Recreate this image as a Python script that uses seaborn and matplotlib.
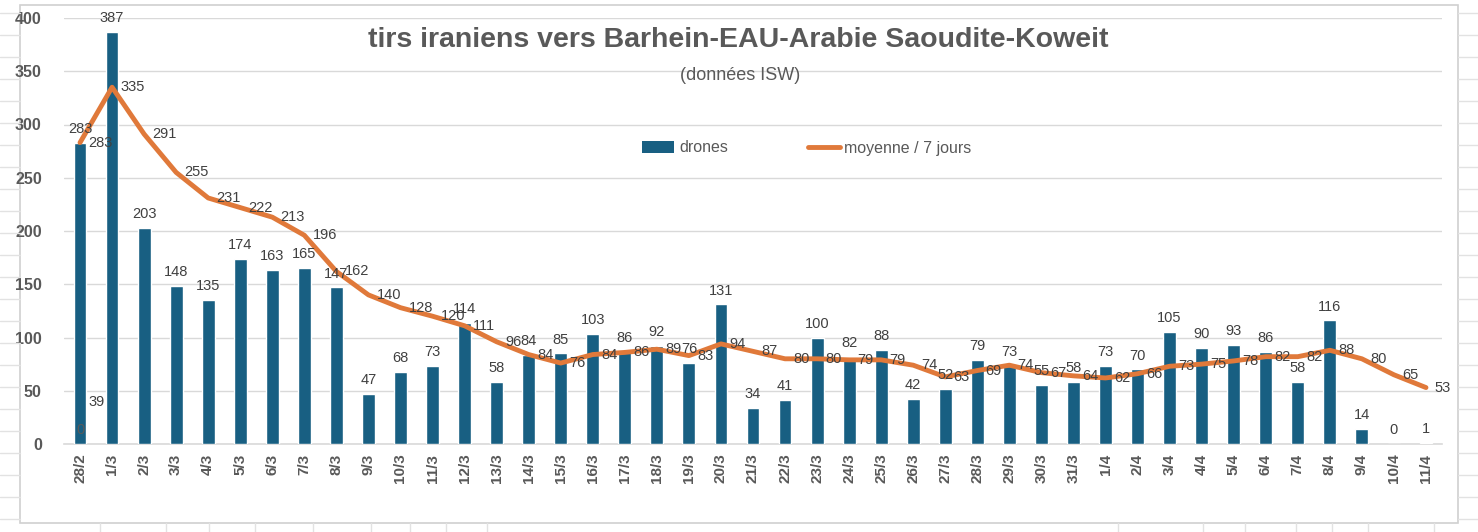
import numpy as np
import pandas as pd
import matplotlib
matplotlib.use('Agg')
import matplotlib.pyplot as plt
from matplotlib.patches import Patch, Rectangle
from matplotlib.lines import Line2D
from matplotlib import font_manager
import seaborn as sns

dates = ['28/2', '1/3', '2/3', '3/3', '4/3', '5/3', '6/3', '7/3', '8/3', '9/3',
         '10/3', '11/3', '12/3', '13/3', '14/3', '15/3', '16/3', '17/3', '18/3', '19/3',
         '20/3', '21/3', '22/3', '23/3', '24/3', '25/3', '26/3', '27/3', '28/3', '29/3',
         '30/3', '31/3', '1/4', '2/4', '3/4', '4/4', '5/4', '6/4', '7/4', '8/4',
         '9/4', '10/4', '11/4']
drones = [283, 387, 203, 148, 135, 174, 163, 165, 147, 47,
          68, 73, 114, 58, 84, 85, 103, 86, 92, 76,
          131, 34, 41, 100, 82, 88, 42, 52, 79, 73,
          55, 58, 73, 70, 105, 90, 93, 86, 58, 116,
          14, 0, 1]
moyenne = [283, 335, 291, 255, 231, 222, 213, 196, 162, 140,
           128, 120, 111, 96, 84, 76, 84, 86, 89, 83,
           94, 87, 80, 80, 79, 79, 74, 63, 69, 74,
           67, 64, 62, 66, 73, 75, 78, 82, 82, 88,
           80, 65, 53]
# stray labels of hidden series on the first day
ghost_above = [0]
ghost_right = [39]

sns.set_theme(style='white')
installed = {f.name for f in font_manager.fontManager.ttflist}
narrow = 'Liberation Sans Narrow' if 'Liberation Sans Narrow' in installed else 'Liberation Sans'
plt.rcParams['font.family'] = ['Liberation Sans', 'DejaVu Sans']

BAR = '#185f82'
LINE = '#e0793a'
GRID = '#d9d9d9'
TXT = '#404040'
AX = '#595959'

df = pd.DataFrame({'date': dates, 'drones': drones, 'moyenne': moyenne})
df['idx'] = np.arange(len(df))

fig = plt.figure(figsize=(14.78, 5.32), dpi=100)
fig.patch.set_facecolor('white')

# spreadsheet cells behind the chart
for y in np.arange(13, 532, 22):
    fig.add_artist(Line2D([0, 20 / 1478], [1 - y / 532] * 2, color='#e2e2e2', lw=1))
    fig.add_artist(Line2D([1458 / 1478, 1], [1 - y / 532] * 2, color='#e2e2e2', lw=1))
for x in [100, 166, 209, 255, 313, 371, 410, 446, 487, 1118, 1203, 1245, 1296, 1332, 1368, 1434]:
    fig.add_artist(Line2D([x / 1478] * 2, [0, 9 / 532], color='#e2e2e2', lw=1))
fig.add_artist(Rectangle((20 / 1478, 9 / 532), 1438 / 1478, 518 / 532, transform=fig.transFigure,
                         facecolor='white', edgecolor='#d0d0d0', lw=1.2, zorder=0))

ax = fig.add_axes([64 / 1478, 1 - 444 / 532, 1378 / 1478, 426 / 532])
ax.set_facecolor('none')

sns.barplot(data=df, x='date', y='drones', color=BAR, width=0.4, saturation=1, ax=ax, zorder=3)
sns.lineplot(data=df, x='idx', y='moyenne', color=LINE, lw=3.5, ax=ax, zorder=4)

ax.set_xlim(-0.5, len(dates) - 0.5)
ax.set_ylim(0, 400)
ax.set_yticks(range(0, 401, 50))
ax.yaxis.grid(True, color=GRID, lw=1)
ax.set_axisbelow(True)
for s in ['top', 'right', 'left']:
    ax.spines[s].set_visible(False)
ax.spines['bottom'].set_color(GRID)
ax.spines['bottom'].set_linewidth(1.2)
ax.tick_params(axis='both', length=0)
ax.tick_params(axis='y', pad=16, labelsize=11.5, labelcolor=AX)
ax.tick_params(axis='x', pad=7, labelsize=11, labelcolor=AX, rotation=90)
for t in ax.get_yticklabels() + ax.get_xticklabels():
    t.set_fontweight('bold')
ax.set_xlabel('')
ax.set_ylabel('')

# data labels
for i, v in enumerate(drones):
    ax.annotate(str(v), (i, v), xytext=(0, 5), textcoords='offset points',
                ha='center', va='bottom', fontsize=10.5, color=TXT, zorder=6)
for i, v in enumerate(moyenne):
    ax.annotate(str(v), (i, v), xytext=(6, 0), textcoords='offset points',
                ha='left', va='center', fontsize=10.5, color=TXT, zorder=6)
for v in ghost_above:
    ax.annotate(str(v), (0, v), xytext=(0, 5), textcoords='offset points',
                ha='center', va='bottom', fontsize=10.5, color='#5a5a5a', zorder=6)
for v in ghost_right:
    ax.annotate(str(v), (0, v), xytext=(6, 0), textcoords='offset points',
                ha='left', va='center', fontsize=10.5, color=TXT, zorder=6)

fig.text(738 / 1478, 1 - 40 / 532, 'tirs iraniens vers Barhein-EAU-Arabie Saoudite-Koweit',
         ha='center', va='center', fontsize=20.5, fontweight='bold', color=AX, family=narrow)
fig.text(740 / 1478, 1 - 75 / 532, '(données ISW)', ha='center', va='center',
         fontsize=13, color=AX, family=narrow)

handles = [Patch(facecolor=BAR, edgecolor='none', label='drones'),
           Line2D([0], [0], color=LINE, lw=3.5, label='moyenne / 7 jours')]
fig.legend(handles=handles, loc='center', bbox_to_anchor=(807 / 1478, 1 - 148 / 532), ncol=2,
           frameon=False, handlelength=2.0, handletextpad=0.3, columnspacing=5.0,
           labelcolor=AX, prop={'family': narrow, 'size': 11.5})

fig.savefig('out.png', dpi=100, facecolor='white')
